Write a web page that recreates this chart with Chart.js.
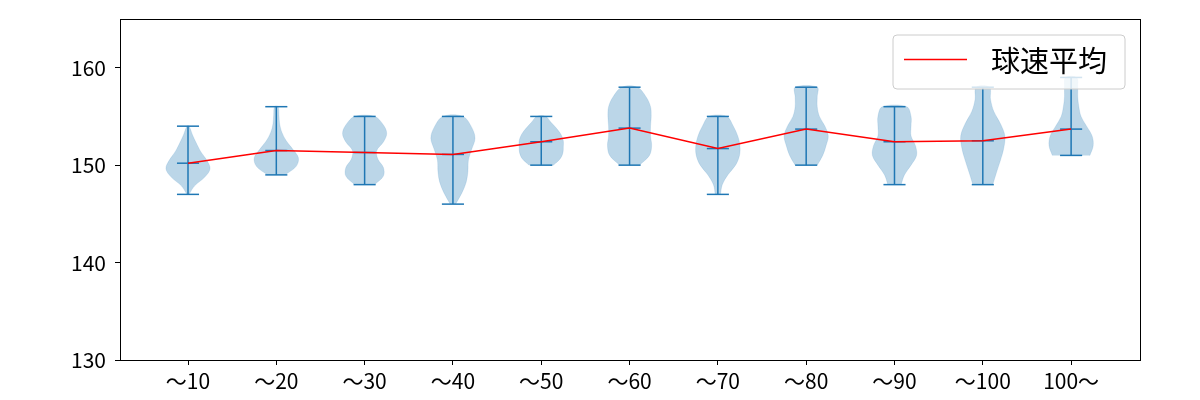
<!DOCTYPE html>
<html>
<head>
<meta charset="utf-8">
<script src="https://cdn.jsdelivr.net/npm/chart.js@4"></script>
<style>
  html, body { margin: 0; padding: 0; background: #fff; }
  #wrap { width: 1200px; height: 400px; }
</style>
</head>
<body>
<div id="wrap"><canvas id="c" width="1200" height="400"></canvas></div>
<script>
// ---- data ----
const categories = ['～10', '～20', '～30', '～40', '～50', '～60', '～70', '～80', '～90', '～100', '100～'];
const means = [150.2, 151.5, 151.3, 151.1, 152.4, 153.8, 151.7, 153.7, 152.4, 152.5, 153.7];
const mins  = [147, 149, 148, 146, 150, 150, 147, 150, 148, 148, 151];
const maxs  = [154, 156, 155, 155, 155, 158, 155, 158, 156, 158, 159];
// relative violin half-widths, sampled evenly from min (first) to max (last)
const densities = [
  [0.05, 0.30, 0.75, 1.00, 0.85, 0.58, 0.38, 0.20, 0.05],
  [0.40, 0.90, 1.00, 0.75, 0.45, 0.25, 0.15, 0.12, 0.08],
  [0.45, 0.85, 0.85, 0.60, 0.55, 0.85, 1.00, 0.85, 0.45],
  [0.12, 0.40, 0.60, 0.68, 0.70, 0.85, 1.00, 0.85, 0.45],
  [0.55, 0.85, 0.98, 1.00, 1.00, 0.90, 0.70, 0.45, 0.20],
  [0.45, 0.90, 1.00, 0.95, 0.95, 0.98, 0.95, 0.75, 0.35],
  [0.12, 0.20, 0.45, 0.80, 0.98, 1.00, 0.90, 0.70, 0.40],
  [0.50, 0.75, 0.90, 1.00, 0.85, 0.60, 0.50, 0.50, 0.50],
  [0.30, 0.45, 0.75, 1.00, 0.95, 0.75, 0.75, 0.75, 0.55],
  [0.45, 0.62, 0.80, 0.95, 1.00, 0.80, 0.50, 0.35, 0.30],
  [0.85, 1.00, 0.95, 0.70, 0.45, 0.35, 0.30, 0.30, 0.25]
];
const yTicks = [130, 140, 150, 160];
const legendLabel = '球速平均';

// ---- styling ----
const BLUE = '#1f77b4';
const VIOLIN_FILL = 'rgba(31,119,180,0.3)';
const HALF = 0.25;   // max half-width of a violin (x units)
const CAP = 0.125;   // half-width of caps
Chart.defaults.font.family = "'Noto Sans CJK JP', 'Noto Sans', sans-serif";
Chart.defaults.color = '#000';

const datasets = [];
// mean line (drawn on top)
datasets.push({
  label: legendLabel,
  data: means.map((m, i) => ({ x: i + 1, y: m })),
  showLine: true, borderColor: 'red', borderWidth: 1.5,
  pointRadius: 0, fill: false, tension: 0
});
// stems, caps, mean markers
categories.forEach((c, i) => {
  const p = i + 1;
  const segs = [
    [{ x: p, y: mins[i] }, { x: p, y: maxs[i] }],
    [{ x: p - CAP, y: mins[i] }, { x: p + CAP, y: mins[i] }],
    [{ x: p - CAP, y: maxs[i] }, { x: p + CAP, y: maxs[i] }],
    [{ x: p - CAP, y: means[i] }, { x: p + CAP, y: means[i] }]
  ];
  segs.forEach(s => datasets.push({
    label: 'seg', data: s, showLine: true, borderColor: BLUE, borderWidth: 1.5,
    pointRadius: 0, fill: false, tension: 0, borderCapStyle: 'butt'
  }));
});
// violin bodies
categories.forEach((c, i) => {
  const d = densities[i];
  const n = d.length;
  const step = (maxs[i] - mins[i]) / (n - 1);
  const right = d.map((w, k) => ({ x: i + 1 + w * HALF, y: mins[i] + k * step }));
  const left = d.map((w, k) => ({ x: i + 1 - w * HALF, y: mins[i] + k * step })).reverse();
  datasets.push({
    label: 'violin', data: right.concat(left), showLine: true,
    fill: 'shape', backgroundColor: VIOLIN_FILL,
    borderColor: 'rgba(31,119,180,0.25)', borderWidth: 0.5,
    pointRadius: 0, tension: 0.35
  });
});

const framePlugin = {
  id: 'frame',
  afterDraw(chart) {
    const { ctx, chartArea: a } = chart;
    ctx.save();
    ctx.strokeStyle = '#000';
    ctx.lineWidth = 1;
    ctx.strokeRect(Math.round(a.left) + 0.5, Math.round(a.top) + 0.5,
                   Math.round(a.right - a.left), Math.round(a.bottom - a.top));
    // legend box (matplotlib style, upper right)
    const bx = a.right - 247, by = a.top + 16, bw = 232, bh = 54, r = 4;
    ctx.beginPath();
    ctx.moveTo(bx + r, by);
    ctx.arcTo(bx + bw, by, bx + bw, by + bh, r);
    ctx.arcTo(bx + bw, by + bh, bx, by + bh, r);
    ctx.arcTo(bx, by + bh, bx, by, r);
    ctx.arcTo(bx, by, bx + bw, by, r);
    ctx.closePath();
    ctx.fillStyle = 'rgba(255,255,255,0.8)';
    ctx.fill();
    ctx.strokeStyle = 'rgba(204,204,204,1)';
    ctx.lineWidth = 1;
    ctx.stroke();
    ctx.strokeStyle = 'red';
    ctx.lineWidth = 1.5;
    ctx.beginPath();
    ctx.moveTo(bx + 11, by + 24.5);
    ctx.lineTo(bx + 74, by + 24.5);
    ctx.stroke();
    ctx.fillStyle = '#000';
    ctx.font = "29px 'Noto Sans CJK JP'";
    ctx.textBaseline = 'middle';
    ctx.textAlign = 'left';
    ctx.fillText(legendLabel, bx + 98, by + 26);
    ctx.restore();
  }
};

new Chart(document.getElementById('c'), {
  type: 'scatter',
  data: { datasets },
  options: {
    responsive: false,
    animation: false,
    devicePixelRatio: 1,
    layout: { padding: { top: 19, right: 60, left: 0, bottom: 0 } },
    plugins: { legend: { display: false }, tooltip: { enabled: false } },
    scales: {
      x: {
        type: 'linear', min: 0.23, max: 11.78,
        afterFit(s) { s.height = 40; s.paddingLeft = 0; s.paddingRight = 0; },
        afterBuildTicks(s) { s.ticks = categories.map((c, i) => ({ value: i + 1 })); },
        ticks: {
          autoSkip: false, maxRotation: 0, padding: 3,
          font: { size: 21 }, color: '#000',
          callback: (v) => categories[Math.round(v) - 1]
        },
        grid: { display: true, drawOnChartArea: false, drawTicks: true, tickLength: 5, color: '#000', lineWidth: 1 },
        border: { display: true, color: '#000', width: 1 }
      },
      y: {
        type: 'linear', min: 130, max: 165,
        afterFit(s) { s.width = 120; s.paddingTop = 0; s.paddingBottom = 0; },
        afterBuildTicks(s) { s.ticks = yTicks.map(v => ({ value: v })); },
        ticks: { padding: 9, font: { size: 21 }, color: '#000' },
        grid: { display: true, drawOnChartArea: false, drawTicks: true, tickLength: 5, color: '#000', lineWidth: 1 },
        border: { display: true, color: '#000', width: 1 }
      }
    }
  },
  plugins: [framePlugin]
});
</script>
</body>
</html>
